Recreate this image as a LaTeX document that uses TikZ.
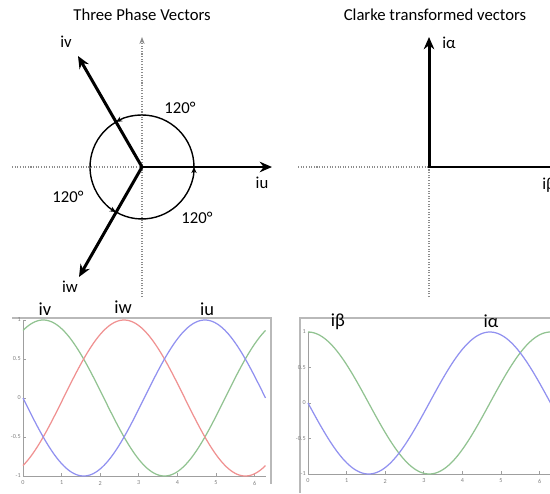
\documentclass[tikz,border=0pt]{standalone}
\usepackage{fontspec}
\setmainfont{Carlito}
\usetikzlibrary{arrows.meta}
\definecolor{cblue}{RGB}{145,145,240}
\definecolor{cred}{RGB}{240,145,145}
\definecolor{cgreen}{RGB}{145,195,145}
\definecolor{cgray}{RGB}{140,140,140}
\begin{document}
\begin{tikzpicture}[x=0.02cm,y=-0.02cm,
  vec/.style={line width=1.7pt,-{Stealth[length=7pt,width=6pt]}},
  dotax/.style={draw=cgray, line width=0.7pt, dash pattern=on 0.6pt off 0.9pt},
  lbl/.style={font=\fontsize{9.5}{11}\selectfont, inner sep=0pt},
  plbl/.style={font=\fontsize{10.5}{12}\selectfont, inner sep=0pt},
  circarr/.style={line width=0.8pt,-{Stealth[length=3.5pt,width=3pt]}},
  pframe/.style={draw=gray!55, line width=0.6pt},
  pax/.style={draw=gray!75, line width=0.5pt},
  tk/.style={font=\fontsize{3.5}{4}\selectfont, text=gray, inner sep=0pt},
  crv/.style={line width=0.7pt, smooth}]
\clip (0,0) rectangle (550,493);
\fill[white] (0,0) rectangle (550,493);
% ---------- Three phase vectors ----------
\node[lbl] (t1) at (142,15) {Three Phase Vectors};
\coordinate (O) at (142,167);
\coordinate (Hl) at (12,167);
\coordinate (Vb) at (142,297);
\coordinate (Vt) at (142,37);
\draw[dotax] (Hl) -- (O);
\draw[dotax,-{Stealth[length=4pt,width=3pt]}] (Vb) -- (Vt);
\coordinate (U) at (272,167);
\coordinate (V) at (78,56);
\coordinate (W) at (79,277);
\draw[circarr] ([shift={(52,0)}]O) arc[start angle=0,end angle=-120,radius=52];
\draw[circarr] ([shift={(-26,-45)}]O) arc[start angle=-120,end angle=-240,radius=52];
\draw[circarr] ([shift={(-26,45)}]O) arc[start angle=-240,end angle=-360,radius=52];
\draw[vec] (O) -- (U);
\draw[vec] (O) -- (V);
\draw[vec] (O) -- (W);
\node[lbl] (liu) at (262,183) {iu};
\node[lbl] (liv) at (66,42) {iv};
\node[lbl] (liw) at (70,287) {iw};
\node[lbl] (a1) at (180,108) {120°};
\node[lbl] (a2) at (68,197) {120°};
\node[lbl] (a3) at (197,218) {120°};
% ---------- Clarke ----------
\node[lbl] (t2) at (435,15) {Clarke transformed vectors};
\coordinate (O2) at (429,167);
\coordinate (H2) at (298,167);
\coordinate (V2) at (429,297);
\coordinate (A) at (429,37);
\coordinate (B) at (570,167);
\draw[dotax] (H2) -- (O2);
\draw[dotax] (V2) -- (O2);
\draw[vec] (B) -- (O2) -- (A);
\node[lbl] (lia) at (449,43) {iα};
\node[lbl,anchor=west] (lib) at (542,185) {iβ};
% ---------- left plot ----------
\coordinate (F1a) at (12,318);
\coordinate (F1b) at (271,318);
\coordinate (F1c) at (271,484);
\draw[pframe] (F1a) -- (F1b) -- (F1c);
\coordinate (P1t) at (23,320);
\coordinate (P1o) at (23,476);
\coordinate (P1r) at (266,476);
\draw[pax] (P1t) -- (P1o) -- (P1r);
\foreach \v/\t in {1/1,0.5/0.5,0/0,-0.5/-0.5,-1/-1}{
  \draw[pax] (23,{398-78*\v}) -- (26,{398-78*\v});
  \node[tk,anchor=east] at (21,{398-78*\v}) {\t};}
\foreach \k in {0,...,6}{
  \draw[pax] ({23+38.6*\k},476) -- ({23+38.6*\k},473);
  \node[tk] at ({23+38.6*\k},483) {\k};}
\draw[crv,cgreen] plot[domain=0:6.2832,samples=120] ({23+38.6*\x},{398-78*sin(\x r+60)});
\draw[crv,cred] plot[domain=0:6.2832,samples=120] ({23+38.6*\x},{398-78*sin(\x r-60)});
\draw[crv,cblue] plot[domain=0:6.2832,samples=120] ({23+38.6*\x},{398+78*sin(\x r)});
\node[plbl] (pv) at (45,309) {iv};
\node[plbl] (pw) at (123,307) {iw};
\node[plbl] (pu) at (207,309) {iu};
% ---------- right plot ----------
\coordinate (F2a) at (300,493);
\coordinate (F2b) at (300,318);
\coordinate (F2c) at (560,318);
\draw[pframe] (F2a) -- (F2b) -- (F2c);
\coordinate (P2t) at (308,332);
\coordinate (P2o) at (308,474);
\coordinate (P2r) at (560,474);
\draw[pax] (P2t) -- (P2o) -- (P2r);
\foreach \v/\t in {1/1,0.5/0.5,0/0,-0.5/-0.5,-1/-1}{
  \draw[pax] (308,{403-71*\v}) -- (311,{403-71*\v});
  \node[tk,anchor=east] at (306,{403-71*\v}) {\t};}
\foreach \k in {0,...,6}{
  \draw[pax] ({308+38.6*\k},474) -- ({308+38.6*\k},471);
  \node[tk] at ({308+38.6*\k},481) {\k};}
\draw[crv,cgreen] plot[domain=0:6.2832,samples=120] ({308+38.6*\x},{403-71*cos(\x r)});
\draw[crv,cblue] plot[domain=0:6.2832,samples=120] ({308+38.6*\x},{403+71*sin(\x r)});
\node[plbl] (pb) at (338,322) {iβ};
\node[plbl] (pa) at (491,321) {iα};
\end{tikzpicture}
\end{document}
